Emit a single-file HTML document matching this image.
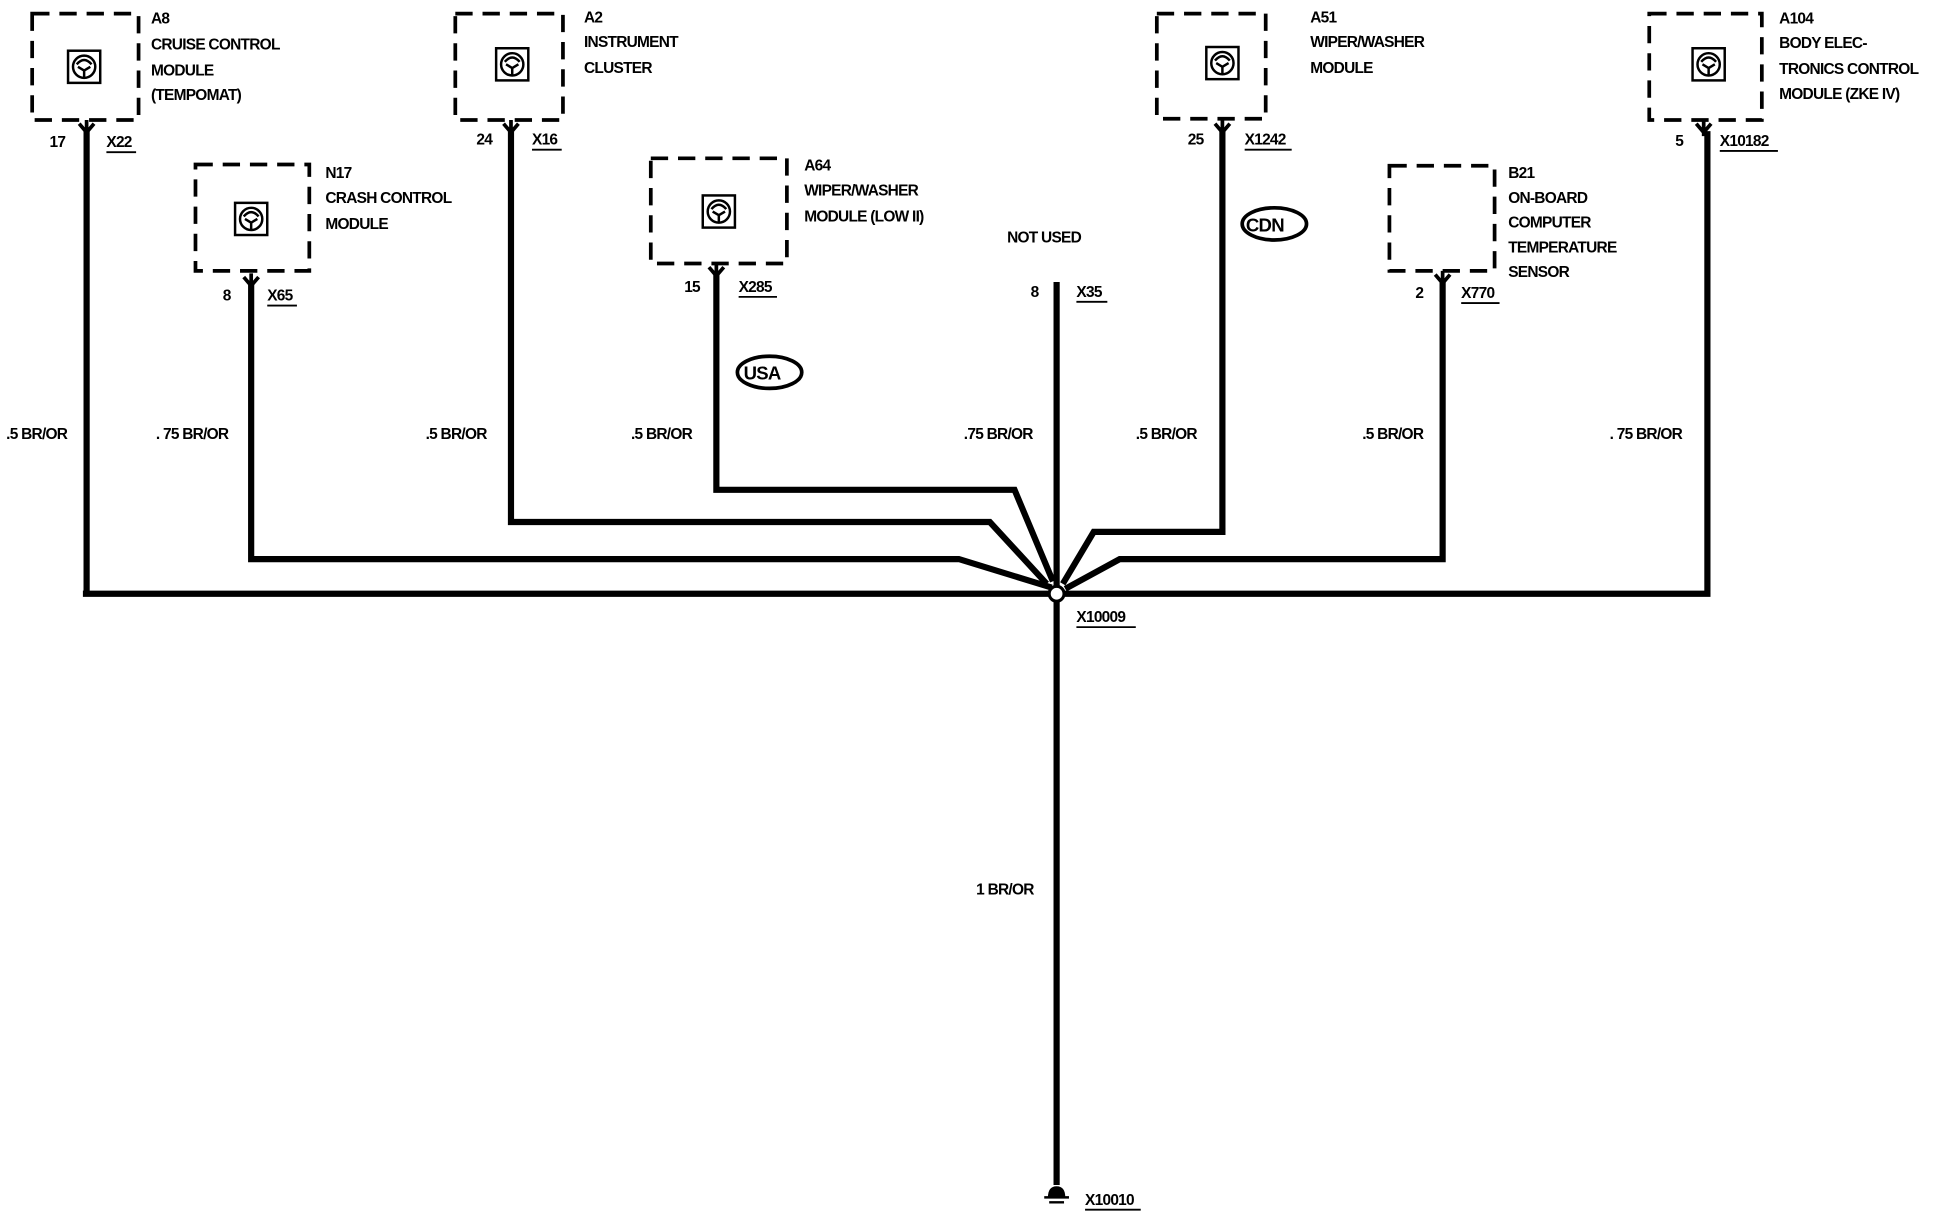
<!DOCTYPE html>
<html><head><meta charset="utf-8"><style>
html,body{margin:0;padding:0;background:#fff;}
svg{display:block;}
text{font-family:"Liberation Sans",sans-serif;font-size:12.5px;font-weight:bold;fill:#000;letter-spacing:-0.6px;}
.b{fill:none;stroke:#000;stroke-width:3;stroke-dasharray:14,8;}
.w{fill:none;stroke:#000;stroke-width:5;stroke-linejoin:miter;}
.u{stroke:#000;stroke-width:1.5;}
</style></head><body>
<svg width="1940" height="1232" viewBox="0 0 1568 996" preserveAspectRatio="none">
<defs>
<g id="ic"><rect x="-13" y="-13" width="26" height="26" fill="#fff" stroke="#000" stroke-width="2"/><circle cx="0" cy="0" r="9" fill="none" stroke="#000" stroke-width="2"/><path d="M-6,-2 Q0,-9 6,-2 M-5,0 L0,3 L5,0 M0,3 L0,9" fill="none" stroke="#000" stroke-width="2"/></g>
<g id="cn"><path d="M-6,-6 L0,1 L6,-6 M0,-9 L0,4" fill="none" stroke="#000" stroke-width="3"/></g>
</defs>
<rect class="b" x="26" y="11" width="86" height="86"/><use href="#ic" x="68" y="54"/>
<rect class="b" x="158" y="133" width="92" height="86"/><use href="#ic" x="203" y="177"/>
<rect class="b" x="368" y="11" width="87" height="86"/><use href="#ic" x="414" y="52"/>
<rect class="b" x="526" y="128" width="110" height="85"/><use href="#ic" x="581" y="171"/>
<rect class="b" x="935" y="11" width="88" height="85"/><use href="#ic" x="988" y="51"/>
<rect class="b" x="1123" y="134" width="85" height="85"/>
<rect class="b" x="1333" y="11" width="91" height="86"/><use href="#ic" x="1381" y="52"/>
<path class="w" d="M70,106 V480 M67,480 H1380 V106"/>
<path class="w" d="M203,230 V452 H775 L850,475"/>
<path class="w" d="M413,106 V422 H800 L846,472"/>
<path class="w" d="M579,222 V396 H820 L851,470"/>
<path class="w" d="M988,106 V430 H884 L859,472"/>
<path class="w" d="M1166,228 V452 H905 L861,476"/>
<path class="w" d="M854,228 V958"/>
<circle cx="854" cy="480" r="6" fill="#fff" stroke="#000" stroke-width="2.5"/>
<use href="#cn" x="70" y="106"/><use href="#cn" x="203" y="230"/><use href="#cn" x="413" y="106"/>
<use href="#cn" x="579" y="222"/><use href="#cn" x="988" y="106"/><use href="#cn" x="1166" y="228"/><use href="#cn" x="1377" y="106"/>
<path d="M848,968 Q848,960 854,960 Q860,960 860,968 Z M844,968 H864 M848,972 H860" fill="#000" stroke="#000" stroke-width="2"/>
<text x="122" y="19">A8</text><text x="122" y="40">CRUISE CONTROL</text><text x="122" y="61">MODULE</text><text x="122" y="81">(TEMPOMAT)</text>
<text x="263" y="144">N17</text><text x="263" y="164">CRASH CONTROL</text><text x="263" y="185">MODULE</text>
<text x="472" y="18">A2</text><text x="472" y="38">INSTRUMENT</text><text x="472" y="59">CLUSTER</text>
<text x="650" y="138">A64</text><text x="650" y="158">WIPER/WASHER</text><text x="650" y="179">MODULE (LOW II)</text>
<text x="1059" y="18">A51</text><text x="1059" y="38">WIPER/WASHER</text><text x="1059" y="59">MODULE</text>
<text x="1219" y="144">B21</text><text x="1219" y="164">ON-BOARD</text><text x="1219" y="184">COMPUTER</text><text x="1219" y="204">TEMPERATURE</text><text x="1219" y="224">SENSOR</text>
<text x="1438" y="19">A104</text><text x="1438" y="39">BODY ELEC-</text><text x="1438" y="60">TRONICS CONTROL</text><text x="1438" y="80">MODULE (ZKE IV)</text>
<text x="40" y="119">17</text><text x="86" y="119">X22</text><line class="u" x1="86" y1="123" x2="110" y2="123"/>
<text x="180" y="243">8</text><text x="216" y="243">X65</text><line class="u" x1="216" y1="247" x2="240" y2="247"/>
<text x="385" y="117">24</text><text x="430" y="117">X16</text><line class="u" x1="430" y1="121" x2="454" y2="121"/>
<text x="553" y="236">15</text><text x="597" y="236">X285</text><line class="u" x1="597" y1="240" x2="628" y2="240"/>
<text x="814" y="196">NOT USED</text>
<text x="833" y="240">8</text><text x="870" y="240">X35</text><line class="u" x1="870" y1="244" x2="895" y2="244"/>
<text x="960" y="117">25</text><text x="1006" y="117">X1242</text><line class="u" x1="1006" y1="121" x2="1044" y2="121"/>
<text x="1144" y="241">2</text><text x="1181" y="241">X770</text><line class="u" x1="1181" y1="245" x2="1212" y2="245"/>
<text x="1354" y="118">5</text><text x="1390" y="118">X10182</text><line class="u" x1="1390" y1="122" x2="1437" y2="122"/>
<text x="870" y="503">X10009</text><line class="u" x1="870" y1="507" x2="918" y2="507"/>
<text x="877" y="974">X10010</text><line class="u" x1="877" y1="978" x2="922" y2="978"/>
<text x="5" y="355">.5 BR/OR</text><text x="126" y="355">. 75 BR/OR</text><text x="344" y="355">.5 BR/OR</text>
<text x="510" y="355">.5 BR/OR</text><text x="779" y="355">.75 BR/OR</text><text x="918" y="355">.5 BR/OR</text>
<text x="1101" y="355">.5 BR/OR</text><text x="1301" y="355">. 75 BR/OR</text><text x="789" y="723">1 BR/OR</text>
<ellipse cx="622" cy="301" rx="26" ry="13" fill="none" stroke="#000" stroke-width="3"/><text x="601" y="307" style="font-size:15px">USA</text>
<ellipse cx="1030" cy="181" rx="26" ry="13" fill="none" stroke="#000" stroke-width="3"/><text x="1007" y="187" style="font-size:15px">CDN</text>
</svg>
</body></html>
